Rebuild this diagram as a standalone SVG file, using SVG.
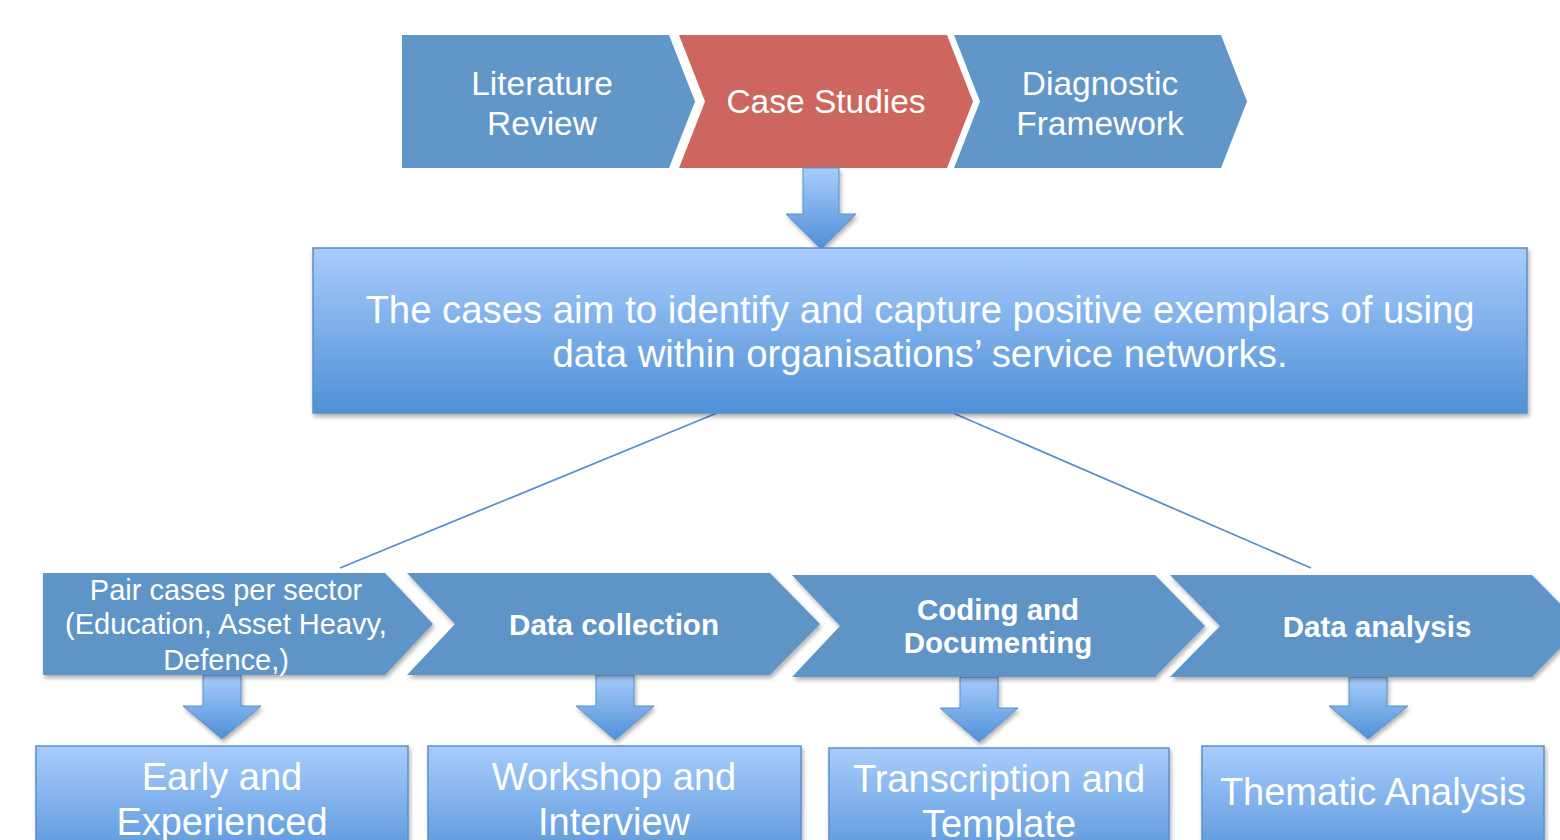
<svg xmlns="http://www.w3.org/2000/svg" width="1560" height="840" viewBox="0 0 1560 840">
  <defs>
    <linearGradient id="boxGrad" x1="0" y1="0" x2="0" y2="1">
      <stop offset="0" stop-color="#a8ccfc"/>
      <stop offset="1" stop-color="#4f90d6"/>
    </linearGradient>
    <linearGradient id="arrowGrad" x1="0" y1="0" x2="0" y2="1">
      <stop offset="0" stop-color="#a8ccfc"/>
      <stop offset="1" stop-color="#4f90d6"/>
    </linearGradient>
    <filter id="shadow" x="-10%" y="-20%" width="120%" height="150%">
      <feDropShadow dx="1.5" dy="3" stdDeviation="2.2" flood-color="#000" flood-opacity="0.32"/>
    </filter>
  </defs>
  <style>
    text { font-family: "Liberation Sans", Arial, sans-serif; fill: #ffffff; text-anchor: middle; }
    .top { font-size: 33.5px; }
    .main { font-size: 38.3px; }
    .step { font-size: 29px; }
    .stepb { font-size: 29.5px; font-weight: bold; }
    .res { font-size: 38px; }
    .chev { fill: #6196c8; }
    .chevred { fill: #cc665e; }
    .chevlow { fill: #5f94c7; filter: url(#shadow); }
    .box { fill: url(#boxGrad); stroke: #5b8fcb; stroke-width: 1.5; filter: url(#shadow); }
    .arrow { fill: url(#arrowGrad); stroke: #5b8fcb; stroke-width: 1; filter: url(#shadow); }
    .link { stroke: #5b8fcb; stroke-width: 1.8; fill: none; }
  </style>

  <!-- top process row -->
  <g id="literature-review">
    <polygon class="chev" points="402,35 669,35 695,101.5 669,168 402,168"/>
    <text class="top" x="542" y="95">Literature</text>
    <text class="top" x="542" y="135">Review</text>
  </g>
  <g id="case-studies">
    <polygon class="chevred" points="679,35 947,35 973,101.5 947,168 679,168 705,101.5"/>
    <text class="top" x="826" y="113">Case Studies</text>
  </g>
  <g id="diagnostic-framework">
    <polygon class="chev" points="954,35 1221,35 1247,101.5 1221,168 954,168 980,101.5"/>
    <text class="top" x="1100" y="95">Diagnostic</text>
    <text class="top" x="1100" y="135">Framework</text>
  </g>

  <!-- connectors -->
  <g id="connectors">
    <polygon class="arrow" points="803,168 839,168 839,214 856,214 821,249 786,214 803,214"/>
    <line class="link" x1="717" y1="413" x2="340" y2="568"/>
    <line class="link" x1="953" y1="413" x2="1311" y2="568"/>
    <polygon class="arrow" points="203,675 241,675 241,706 261,706 222,739 183,706 203,706"/>
    <polygon class="arrow" points="596,675 634,675 634,706 654,706 615,740 576,706 596,706"/>
    <polygon class="arrow" points="960,677 998,677 998,708 1018,708 979,742 940,708 960,708"/>
    <polygon class="arrow" points="1349,677 1387,677 1387,706 1408,706 1368,739 1329,706 1349,706"/>
  </g>

  <!-- aim statement -->
  <g id="aim">
    <rect class="box" x="313" y="248" width="1214" height="165"/>
    <text class="main" x="920" y="323">The cases aim to identify and capture positive exemplars of using</text>
    <text class="main" x="920" y="367">data within organisations’ service networks.</text>
  </g>

  <!-- lower process row -->
  <g id="pair-cases">
    <polygon class="chevlow" points="43,573 385,573 433,624 385,675 43,675"/>
    <text class="step" x="226" y="600">Pair cases per sector</text>
    <text class="step" x="226" y="634">(Education, Asset Heavy,</text>
    <text class="step" x="226" y="670">Defence,)</text>
  </g>
  <g id="data-collection">
    <polygon class="chevlow" points="407,573 770,573 820,624 770,675 407,675 455,624"/>
    <text class="stepb" x="614" y="635">Data collection</text>
  </g>
  <g id="coding">
    <polygon class="chevlow" points="792,575 1155,575 1205,626 1155,677 792,677 840,626"/>
    <text class="stepb" x="998" y="620">Coding and</text>
    <text class="stepb" x="998" y="653">Documenting</text>
  </g>
  <g id="data-analysis">
    <polygon class="chevlow" points="1170,575 1532,575 1582,626 1532,677 1170,677 1220,626"/>
    <text class="stepb" x="1377" y="637">Data analysis</text>
  </g>

  <!-- outcome boxes -->
  <g id="early-experienced">
    <rect class="box" x="36" y="746" width="372" height="125"/>
    <text class="res" x="222" y="790">Early and</text>
    <text class="res" x="222" y="835">Experienced</text>
  </g>
  <g id="workshop-interview">
    <rect class="box" x="428" y="746" width="373" height="125"/>
    <text class="res" x="614" y="790">Workshop and</text>
    <text class="res" x="614" y="835">Interview</text>
  </g>
  <g id="transcription-template">
    <rect class="box" x="829" y="748" width="340" height="125"/>
    <text class="res" x="999" y="792">Transcription and</text>
    <text class="res" x="999" y="837">Template</text>
  </g>
  <g id="thematic-analysis">
    <rect class="box" x="1202" y="746" width="342" height="125"/>
    <text class="res" x="1373" y="805">Thematic Analysis</text>
  </g>
</svg>
